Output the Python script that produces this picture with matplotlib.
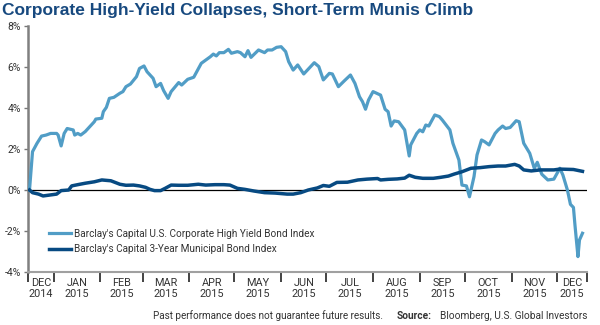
import matplotlib
matplotlib.use("Agg")
import matplotlib.pyplot as plt
import pandas as pd
from matplotlib import font_manager

# Cumulative total return, %
hy_dates = [
    "2014-12-16", "2014-12-18", "2014-12-21", "2014-12-24", "2014-12-27", "2014-12-30",
    "2015-01-03", "2015-01-04", "2015-01-06", "2015-01-08", "2015-01-10", "2015-01-14",
    "2015-01-15", "2015-01-17", "2015-01-19", "2015-01-22", "2015-01-25", "2015-01-28",
    "2015-01-29", "2015-02-02", "2015-02-03", "2015-02-05", "2015-02-07", "2015-02-10",
    "2015-02-14", "2015-02-16", "2015-02-18", "2015-02-21", "2015-02-25", "2015-02-27",
    "2015-03-02", "2015-03-04", "2015-03-08", "2015-03-10", "2015-03-13", "2015-03-15",
    "2015-03-18", "2015-03-20", "2015-03-25", "2015-03-27", "2015-03-31", "2015-04-04",
    "2015-04-06", "2015-04-09", "2015-04-12", "2015-04-15", "2015-04-17", "2015-04-19",
    "2015-04-21", "2015-04-24", "2015-04-27", "2015-04-29", "2015-05-03", "2015-05-05",
    "2015-05-08", "2015-05-10", "2015-05-12", "2015-05-17", "2015-05-21", "2015-05-23",
    "2015-05-26", "2015-05-29", "2015-06-01", "2015-06-04", "2015-06-06", "2015-06-09",
    "2015-06-12", "2015-06-16", "2015-06-23", "2015-06-26", "2015-06-29", "2015-07-03",
    "2015-07-05", "2015-07-09", "2015-07-13", "2015-07-17", "2015-07-20", "2015-07-23",
    "2015-07-25", "2015-07-27", "2015-07-29", "2015-08-01", "2015-08-06", "2015-08-09",
    "2015-08-11", "2015-08-13", "2015-08-15", "2015-08-18", "2015-08-22", "2015-08-25",
    "2015-08-26", "2015-08-30", "2015-09-01", "2015-09-03", "2015-09-05", "2015-09-07",
    "2015-09-11", "2015-09-14", "2015-09-16", "2015-09-21", "2015-09-23", "2015-09-27",
    "2015-09-29", "2015-10-02", "2015-10-04", "2015-10-07", "2015-10-09", "2015-10-12",
    "2015-10-14", "2015-10-17", "2015-10-21", "2015-10-23", "2015-10-26", "2015-10-28",
    "2015-10-31", "2015-11-04", "2015-11-06", "2015-11-09", "2015-11-11", "2015-11-13",
    "2015-11-16", "2015-11-18", "2015-11-21", "2015-11-25", "2015-11-29", "2015-12-03",
    "2015-12-05", "2015-12-08", "2015-12-10", "2015-12-12", "2015-12-13", "2015-12-15",
    "2015-12-16", "2015-12-18",
]
hy_values = [
    0.00, 1.87, 2.28, 2.63, 2.68, 2.76,
    2.76, 2.68, 2.15, 2.76, 3.00, 2.93,
    2.68, 2.76, 2.68, 2.85, 3.09, 3.33,
    3.46, 3.50, 3.82, 4.03, 4.47, 4.52,
    4.72, 4.80, 5.04, 5.17, 5.53, 5.93,
    6.05, 5.77, 5.45, 5.04, 5.20, 4.85,
    4.47, 4.80, 5.24, 5.12, 5.40, 5.50,
    5.77, 6.18, 6.34, 6.50, 6.63, 6.54,
    6.70, 6.70, 6.86, 6.67, 6.75, 6.70,
    6.50, 6.80, 6.47, 6.83, 6.70, 6.83,
    6.83, 6.96, 6.99, 6.75, 6.26, 5.85,
    6.10, 5.66, 6.21, 6.02, 5.37, 5.69,
    5.66, 5.04, 5.33, 5.61, 5.20, 4.55,
    4.31, 3.94, 4.39, 4.80, 4.63, 3.94,
    3.82, 3.12, 3.37, 3.33, 2.93, 1.66,
    2.20, 2.76, 2.93, 2.84, 3.17, 3.12,
    3.66, 3.58, 3.41, 2.93, 2.28, 1.46,
    0.24, 0.20, -0.33, 0.65, 1.71, 2.44,
    2.36, 2.20, 2.76, 2.93, 3.12, 3.00,
    3.05, 3.38, 3.33, 2.28, 2.03, 1.79,
    1.06, 1.35, 0.77, 0.49, 0.53, 1.06,
    0.73, 0.00, -0.70, -0.85, -1.70, -3.25,
    -2.44, -2.11,
]

muni_dates = [
    "2014-12-16", "2014-12-18", "2014-12-22", "2014-12-25", "2014-12-30", "2015-01-03",
    "2015-01-06", "2015-01-11", "2015-01-13", "2015-01-17", "2015-01-22", "2015-01-28",
    "2015-02-02", "2015-02-08", "2015-02-14", "2015-02-18", "2015-02-23", "2015-02-27",
    "2015-03-03", "2015-03-06", "2015-03-09", "2015-03-13", "2015-03-16", "2015-03-20",
    "2015-03-25", "2015-03-31", "2015-04-07", "2015-04-12", "2015-04-18", "2015-04-24",
    "2015-04-28", "2015-05-03", "2015-05-08", "2015-05-14", "2015-05-21", "2015-05-28",
    "2015-06-05", "2015-06-09", "2015-06-14", "2015-06-19", "2015-06-25", "2015-06-29",
    "2015-07-03", "2015-07-08", "2015-07-15", "2015-07-22", "2015-07-28", "2015-08-04",
    "2015-08-06", "2015-08-11", "2015-08-17", "2015-08-22", "2015-08-25", "2015-08-29",
    "2015-09-03", "2015-09-10", "2015-09-15", "2015-09-20", "2015-09-24", "2015-09-29",
    "2015-10-05", "2015-10-11", "2015-10-17", "2015-10-23", "2015-10-28", "2015-11-03",
    "2015-11-06", "2015-11-09", "2015-11-14", "2015-11-20", "2015-11-29", "2015-12-03",
    "2015-12-12", "2015-12-18",
]
muni_values = [
    0.00, -0.13, -0.20, -0.29, -0.24, -0.20,
    -0.03, 0.00, 0.20, 0.26, 0.33, 0.40,
    0.49, 0.45, 0.28, 0.23, 0.24, 0.20,
    0.13, 0.03, -0.03, -0.03, 0.08, 0.24,
    0.23, 0.23, 0.28, 0.24, 0.26, 0.26,
    0.24, 0.08, 0.03, -0.05, -0.13, -0.15,
    -0.20, -0.20, -0.13, 0.00, 0.10, 0.22,
    0.18, 0.37, 0.38, 0.49, 0.53, 0.56,
    0.49, 0.52, 0.54, 0.58, 0.72, 0.62,
    0.57, 0.57, 0.62, 0.68, 0.78, 0.89,
    1.06, 1.09, 1.14, 1.17, 1.17, 1.25,
    1.17, 0.98, 0.93, 0.98, 0.98, 1.02,
    1.00, 0.91,
]

hy_label = "Barclay's Capital U.S. Corporate High Yield Bond Index"
muni_label = "Barclay's Capital 3-Year Municipal Bond Index"
month_names = ["DEC", "JAN", "FEB", "MAR", "APR", "MAY", "JUN",
               "JUL", "AUG", "SEP", "OCT", "NOV", "DEC"]
month_years = ["2014"] + ["2015"] * 12
y_ticks = [-4, -2, 0, 2, 4, 6, 8]

start = pd.Timestamp("2014-12-15")
end = pd.Timestamp("2015-12-21")

hy_color = "#519dc6"
muni_color = "#074a82"
title_color = "#17497f"
text_color = "#333333"


def find_font(name, weight, style="normal"):
    for f in font_manager.fontManager.ttflist:
        if f.name == name and f.weight == weight and f.style == style:
            return font_manager.FontProperties(fname=f.fname)
    return None


title_font = (find_font("Liberation Sans Narrow", 700)
              or font_manager.FontProperties(family="Liberation Sans", weight="bold"))
title_font.set_size(12.5)

plt.rcParams["font.family"] = ["Roboto", "Liberation Sans", "DejaVu Sans"]

fig = plt.figure(figsize=(6, 3.25), dpi=100)
ax = fig.add_axes([28 / 600, 1 - 272 / 325, 559 / 600, 246 / 325])

ax.plot(pd.to_datetime(hy_dates), hy_values, color=hy_color, lw=2.3,
        solid_joinstyle="round", label=hy_label, zorder=3)
ax.plot(pd.to_datetime(muni_dates), muni_values, color=muni_color, lw=2.5,
        solid_joinstyle="round", label=muni_label, zorder=4)
ax.axhline(0, color="black", lw=0.9, zorder=2)

ax.set_xlim(start, end)
ax.set_ylim(-4, 8)
ax.set_yticks(y_ticks)
ax.set_yticklabels([f"{v}%" for v in y_ticks], fontsize=7.5, color=text_color)
ax.tick_params(axis="y", length=3, width=1, color="#777777", pad=2)

# month boundaries as ticks, month names centred between them
bounds = [start] + list(pd.date_range("2015-01-01", "2015-12-01", freq="MS")) + [end]
ax.set_xticks(bounds)
ax.set_xticklabels([])
ax.tick_params(axis="x", which="major", length=7, width=1.2, color="#222222")
mids = [bounds[i] + (bounds[i + 1] - bounds[i]) / 2 for i in range(len(bounds) - 1)]
ax.set_xticks(mids, minor=True)
ax.set_xticklabels([f"{m}\n{y}" for m, y in zip(month_names, month_years)],
                   minor=True, fontsize=7.8, color=text_color, linespacing=1.15)
ax.tick_params(axis="x", which="minor", length=0, pad=4)

for side in ["top", "right"]:
    ax.spines[side].set_visible(False)
ax.spines["left"].set_color("#808080")
ax.spines["left"].set_linewidth(1.8)
ax.spines["bottom"].set_color("#a0a0a0")
ax.spines["bottom"].set_linewidth(1.5)

ax.legend(loc="lower left", bbox_to_anchor=(0.03, 0.055), frameon=False,
          fontsize=7.2, handlelength=2.2, handletextpad=0.3, labelspacing=0.55,
          labelcolor=text_color, borderaxespad=0)

fig.text(2 / 600, 1 - 11 / 325, "Corporate High-Yield Collapses, Short-Term Munis Climb",
         fontproperties=title_font, color=title_color, va="center")
fig.text(383 / 600, 1 - 316 / 325, "Past performance does not guarantee future results.",
         fontsize=7.1, color=text_color, va="center", ha="right")
fig.text(588 / 600, 1 - 316 / 325, "Bloomberg, U.S. Global Investors",
         fontsize=7.3, color=text_color, va="center", ha="right")
fig.text(432 / 600, 1 - 316 / 325, "Source:", fontsize=7.3, fontweight="bold",
         color=text_color, va="center", ha="right")

fig.savefig("out.png", dpi=100)
